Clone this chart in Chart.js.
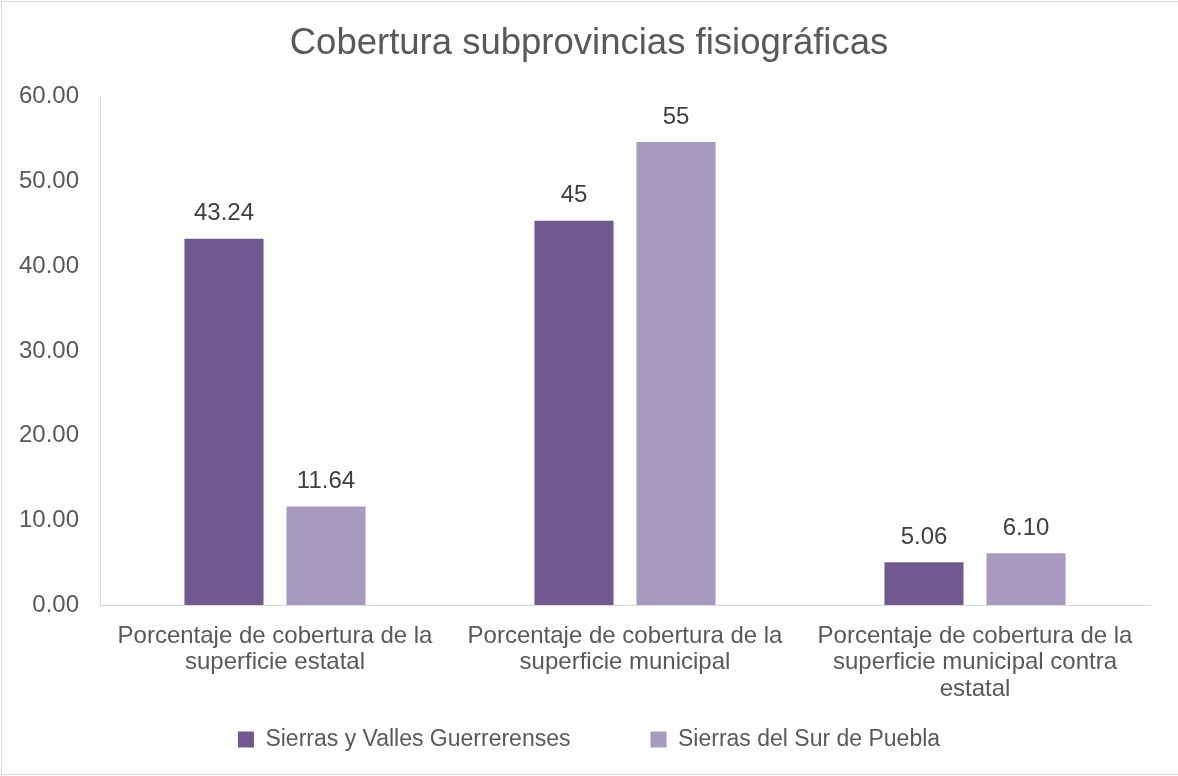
<!doctype html>
<html>
	<head>
		<meta charset="utf-8">
		<title>Cobertura subprovincias fisiográficas</title>
		<script src="https://cdn.jsdelivr.net/npm/chart.js@4"></script>
		<style>
			body { margin: 0; background: #fff; }
		</style>
	</head>
	<body>
		<canvas id="coverChart" width="1178" height="776"></canvas>

	<script>
		// data
		var categories = [
			["Porcentaje de cobertura de la", "superficie estatal"],
			["Porcentaje de cobertura de la", "superficie municipal"],
			["Porcentaje de cobertura de la", "superficie municipal contra", "estatal"]
		];
		var seriesNames = ["Sierras y Valles Guerrerenses", "Sierras del Sur de Puebla"];
		var guerrerenses = [43.24, 45.37, 5.06];
		var puebla = [11.64, 54.66, 6.10];
		// decimals shown in each data label
		var guerrerensesDecimals = [2, 0, 2];
		var pueblaDecimals = [2, 0, 2];
		var yTicks = [0, 10, 20, 30, 40, 50, 60];

		var font = "'Liberation Sans', Arial, sans-serif";
		var darkPurple = "rgb(113,88,142)";
		var lightPurple = "rgb(169,154,191)";

		// draws value labels above each bar, using the bar positions from chart.js
		var valueLabels = {
			id: "valueLabels",
			afterDatasetsDraw: function(chart) {
				var ctx = chart.ctx;
				ctx.save();
				ctx.font = "24px " + font;
				ctx.fillStyle = "#404040";
				ctx.textAlign = "center";
				ctx.textBaseline = "middle";
				chart.data.datasets.forEach(function(ds, i) {
					var meta = chart.getDatasetMeta(i);
					meta.data.forEach(function(bar, j) {
						var txt = ds.data[j].toFixed(ds.decimals[j]);
						ctx.fillText(txt, bar.x, bar.y - 25);
					});
				});
				ctx.restore();
			}
		};

		// light frame round the whole chart
		var frame = {
			id: "frame",
			beforeDraw: function(chart) {
				var ctx = chart.ctx;
				ctx.save();
				ctx.fillStyle = "#fff";
				ctx.fillRect(0, 0, chart.width, chart.height);
				ctx.strokeStyle = "#d9d9d9";
				ctx.lineWidth = 1;
				ctx.strokeRect(1.5, 1.5, chart.width, chart.height - 3);
				ctx.restore();
			}
		};

		// the x labels run down behind the legend box, so let them use the whole bottom
		var unclipLabels = {
			id: "unclipLabels",
			afterLayout: function(chart) {
				chart.scales.x.bottom = chart.height;
			}
		};

		var ctx = document.getElementById("coverChart").getContext("2d");
		var myChart = new Chart(ctx, {
			type: "bar",
			data: {
				labels: categories,
				datasets: [
					{
						label: seriesNames[0],
						data: guerrerenses,
						decimals: guerrerensesDecimals,
						backgroundColor: darkPurple
					},
					{
						label: seriesNames[1],
						data: puebla,
						decimals: pueblaDecimals,
						backgroundColor: lightPurple
					}
				]
			},
			options: {
				responsive: false,
				animation: false,
				devicePixelRatio: 1,
				categoryPercentage: 0.583,
				barPercentage: 0.775,
				layout: {
					padding: { left: 0, right: 0, top: 0, bottom: 15 }
				},
				plugins: {
					title: {
						display: true,
						text: "Cobertura subprovincias fisiográficas",
						color: "#595959",
						font: { family: font, size: 36.5, weight: "normal", lineHeight: 1.2 },
						padding: { top: 22, bottom: 31 }
					},
					legend: {
						position: "bottom",
						labels: {
							color: "#595959",
							font: { family: font, size: 23 },
							boxWidth: 16,
							boxHeight: 16,
							padding: 80
						}
					},
					tooltip: { enabled: false }
				},
				scales: {
					x: {
						grid: { display: false, drawTicks: false },
						border: { display: true, color: "#d9d9d9", width: 1 },
						ticks: {
							color: "#595959",
							font: { family: font, size: 24, lineHeight: 1.1 },
							padding: 18,
							maxRotation: 0,
							autoSkip: false
						},
						afterFit: function(scale) { scale.height = 43; }
					},
					y: {
						min: 0,
						max: 60,
						grid: { display: false, drawTicks: false },
						border: { display: true, color: "#d9d9d9", width: 1 },
						afterBuildTicks: function(scale) {
							scale.ticks = yTicks.map(function(v) { return { value: v }; });
						},
						ticks: {
							color: "#595959",
							font: { family: font, size: 24 },
							padding: 21,
							callback: function(v) { return Number(v).toFixed(2); }
						},
						afterFit: function(scale) { scale.width = 100; }
					},
					// empty strip on the right, keeps the plot off the edge
					yRight: {
						position: "right",
						min: 0,
						max: 60,
						grid: { display: false, drawTicks: false },
						border: { display: false },
						ticks: { display: false },
						afterFit: function(scale) { scale.width = 28; }
					}
				}
			},
			plugins: [frame, unclipLabels, valueLabels]
		});
	</script>
	</body>
</html>
